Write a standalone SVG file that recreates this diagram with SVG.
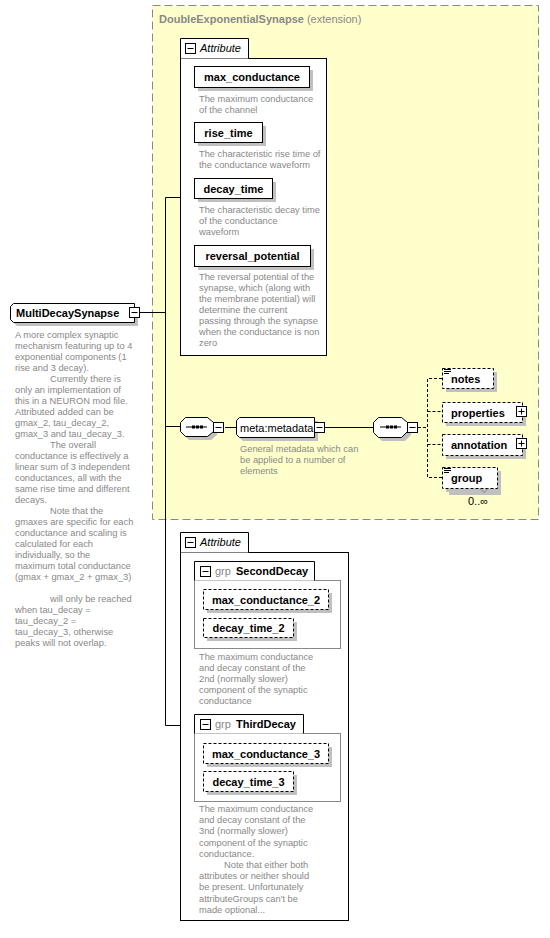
<svg xmlns="http://www.w3.org/2000/svg" width="550" height="938" viewBox="0 0 550 938">
<style>
.n{font-family:"Liberation Sans",Arial,sans-serif;font-size:11px;font-weight:bold;fill:#000}
.r{font-family:"Liberation Sans",Arial,sans-serif;font-size:11px;fill:#000}
.g{font-family:"Liberation Sans",Arial,sans-serif;font-size:11px;fill:#888}
.gb{font-family:"Liberation Sans",Arial,sans-serif;font-size:11px;font-weight:bold;fill:#888}
.it{font-family:"Liberation Sans",Arial,sans-serif;font-size:11px;font-style:italic;fill:#000}
.d{font-family:"Liberation Sans",Arial,sans-serif;font-size:9.3px;fill:#888}
.box{fill:#fff;stroke:#000;stroke-width:1}
.dbox{fill:#fff;stroke:#000;stroke-width:1;stroke-dasharray:3,2}
.gbox{fill:none;stroke:#888;stroke-width:1}
.sh{fill:#c0c0c0}
.ln{stroke:#000;stroke-width:1;fill:none}
.dl{stroke:#000;stroke-width:1;fill:none;stroke-dasharray:3,2}
</style>
<defs>
<g id="minus"><rect x="0.5" y="0.5" width="10" height="10" fill="#fff" stroke="#000"/><line x1="2.5" y1="5.5" x2="8.5" y2="5.5" stroke="#000"/></g>
<g id="plus"><rect x="0.5" y="0.5" width="10" height="10" fill="#fff" stroke="#000"/><line x1="2.5" y1="5.5" x2="8.5" y2="5.5" stroke="#000"/><line x1="5.5" y1="2.5" x2="5.5" y2="8.5" stroke="#000"/></g>
<g id="seqicon"><line x1="0" y1="0" x2="21" y2="0" stroke="#000"/><rect x="6" y="-1.5" width="3" height="3" fill="#000"/><rect x="10" y="-1.5" width="3" height="3" fill="#000"/><rect x="14" y="-1.5" width="3" height="3" fill="#000"/></g>
<g id="doc"><line x1="0" y1="0.5" x2="7" y2="0.5" stroke="#000"/><line x1="0" y1="2.5" x2="7" y2="2.5" stroke="#000"/><line x1="0" y1="4.5" x2="5" y2="4.5" stroke="#000"/></g>
</defs>

<g id="extension">
<rect x="152.5" y="5.5" width="386" height="514" fill="#ffffcc" stroke="#888" stroke-dasharray="8,4"/>
<text x="159" y="23"><tspan class="gb">DoubleExponentialSynapse</tspan><tspan class="g"> (extension)</tspan></text>
</g>

<g id="connectors">
<polyline class="ln" points="140,312.5 165.5,312.5"/>
<polyline class="ln" points="180,197.5 165.5,197.5 165.5,725.5 180,725.5"/>
<polyline class="ln" points="165.5,426.5 180,426.5"/>
<polyline class="ln" points="225,427.5 236,427.5"/>
<polyline class="ln" points="325,427.5 373,427.5"/>
<polyline class="dl" points="418,427.5 427.5,427.5"/>
<polyline class="dl" points="442,378.5 427.5,378.5 427.5,477.5 442,477.5"/>
<polyline class="dl" points="427.5,411.5 442,411.5"/>
<polyline class="dl" points="427.5,444.5 442,444.5"/>
</g>

<g id="MultiDecaySynapse">
<polygon class="sh" points="17,307 138,307 138,326 17,326 14,323 14,310"/>
<polygon class="box" points="13.5,303.5 134.5,303.5 134.5,322.5 13.5,322.5 10.5,319.5 10.5,306.5"/>
<text class="n" x="16" y="317">MultiDecaySynapse</text>
<use href="#minus" x="129" y="307"/>
<text class="d">
<tspan x="15" y="338">A more complex synaptic</tspan>
<tspan x="15" dy="11">mechanism featuring up to 4</tspan>
<tspan x="15" dy="11">exponential components (1</tspan>
<tspan x="15" dy="11">rise and 3 decay).</tspan>
<tspan x="50" dy="11">Currently there is</tspan>
<tspan x="15" dy="11">only an implementation of</tspan>
<tspan x="15" dy="11">this in a NEURON mod file.</tspan>
<tspan x="15" dy="11">Attributed added can be</tspan>
<tspan x="15" dy="11">gmax_2, tau_decay_2,</tspan>
<tspan x="15" dy="11">gmax_3 and tau_decay_3.</tspan>
<tspan x="50" dy="11">The overall</tspan>
<tspan x="15" dy="11">conductance is effectively a</tspan>
<tspan x="15" dy="11">linear sum of 3 independent</tspan>
<tspan x="15" dy="11">conductances, all with the</tspan>
<tspan x="15" dy="11">same rise time and different</tspan>
<tspan x="15" dy="11">decays.</tspan>
<tspan x="50" dy="11">Note that the</tspan>
<tspan x="15" dy="11">gmaxes are specific for each</tspan>
<tspan x="15" dy="11">conductance and scaling is</tspan>
<tspan x="15" dy="11">calculated for each</tspan>
<tspan x="15" dy="11">individually, so the</tspan>
<tspan x="15" dy="11">maximum total conductance</tspan>
<tspan x="15" dy="11">(gmax + gmax_2 + gmax_3)</tspan>
<tspan x="50" dy="22">will only be reached</tspan>
<tspan x="15" dy="11">when tau_decay =</tspan>
<tspan x="15" dy="11">tau_decay_2 =</tspan>
<tspan x="15" dy="11">tau_decay_3, otherwise</tspan>
<tspan x="15" dy="11">peaks will not overlap.</tspan>
</text>
</g>

<g id="Attribute1">
<rect class="box" x="180.5" y="58.5" width="146" height="297"/>
<path class="box" d="M180.5,58.5 V38.5 H248.5 V58.5"/>
<use href="#minus" x="185" y="43"/>
<text class="it" x="200" y="52">Attribute</text>
</g>

<g id="max_conductance">
<rect class="sh" x="198" y="70" width="115" height="21"/>
<rect class="box" x="194.5" y="66.5" width="115" height="21"/>
<text class="n" x="252" y="81" text-anchor="middle">max_conductance</text>
<text class="d"><tspan x="199" y="102">The maximum conductance</tspan><tspan x="199" dy="11">of the channel</tspan></text>
</g>

<g id="rise_time">
<rect class="sh" x="198" y="126" width="68" height="20"/>
<rect class="box" x="194.5" y="122.5" width="68" height="20"/>
<text class="n" x="228.5" y="136.5" text-anchor="middle">rise_time</text>
<text class="d"><tspan x="199" y="157">The characteristic rise time of</tspan><tspan x="199" dy="11">the conductance waveform</tspan></text>
</g>

<g id="decay_time">
<rect class="sh" x="198" y="182" width="78" height="20"/>
<rect class="box" x="194.5" y="178.5" width="78" height="20"/>
<text class="n" x="233.5" y="192.5" text-anchor="middle">decay_time</text>
<text class="d"><tspan x="199" y="213">The characteristic decay time</tspan><tspan x="199" dy="11">of the conductance</tspan><tspan x="199" dy="11">waveform</tspan></text>
</g>

<g id="reversal_potential">
<rect class="sh" x="198" y="249" width="116" height="21"/>
<rect class="box" x="194.5" y="245.5" width="116" height="21"/>
<text class="n" x="252.5" y="260" text-anchor="middle">reversal_potential</text>
<text class="d"><tspan x="199" y="280">The reversal potential of the</tspan><tspan x="199" dy="11">synapse, which (along with</tspan><tspan x="199" dy="11">the membrane potential) will</tspan><tspan x="199" dy="11">determine the current</tspan><tspan x="199" dy="11">passing through the synapse</tspan><tspan x="199" dy="11">when the conductance is non</tspan><tspan x="199" dy="11">zero</tspan></text>
</g>

<g id="sequence1">
<polygon class="sh" points="189,421 211,421 217,426 217,435 211,440 189,440 184,435 184,426"/>
<polygon class="box" points="185.5,417.5 207.5,417.5 213.5,422.5 213.5,431.5 207.5,436.5 185.5,436.5 180.5,431.5 180.5,422.5"/>
<use href="#seqicon" x="186" y="427"/>
<use href="#minus" x="213" y="422"/>
</g>

<g id="meta_metadata">
<polygon class="sh" points="243,421 318,421 318,441 243,441 240,438 240,424"/>
<polygon class="box" points="239.5,417.5 314.5,417.5 314.5,437.5 239.5,437.5 236.5,434.5 236.5,420.5"/>
<text class="r" x="240" y="431.5">meta:metadata</text>
<use href="#minus" x="314" y="422"/>
<text class="d"><tspan x="240" y="452">General metadata which can</tspan><tspan x="240" dy="11">be applied to a number of</tspan><tspan x="240" dy="11">elements</tspan></text>
</g>

<g id="sequence2">
<polygon class="sh" points="382,421 405,421 411,426 411,435 405,441 382,441 377,436 377,426"/>
<polygon class="box" points="378.5,417.5 401.5,417.5 407.5,422.5 407.5,431.5 401.5,437.5 378.5,437.5 373.5,432.5 373.5,422.5"/>
<use href="#seqicon" x="380" y="427"/>
<use href="#minus" x="407" y="422"/>
</g>

<g id="notes">
<rect class="sh" x="446" y="372" width="51" height="20"/>
<rect class="dbox" x="442.5" y="368.5" width="51" height="20"/>
<use href="#doc" x="444" y="369"/>
<text class="n" x="451" y="382.5">notes</text>
</g>

<g id="properties">
<rect class="sh" x="446" y="406" width="80" height="20"/>
<rect class="dbox" x="442.5" y="402.5" width="80" height="20"/>
<text class="n" x="451" y="416.5">properties</text>
<use href="#plus" x="516" y="406"/>
</g>

<g id="annotation">
<rect class="sh" x="446" y="438" width="80" height="21"/>
<rect class="dbox" x="442.5" y="434.5" width="80" height="21"/>
<text class="n" x="451" y="449">annotation</text>
<use href="#plus" x="516" y="438"/>
</g>

<g id="group">
<rect class="sh" x="449" y="474" width="52" height="21"/>
<rect class="sh" x="446" y="471" width="55" height="21"/>
<rect class="dbox" x="442.5" y="467.5" width="55" height="21"/>
<polyline points="480,488.5 484,492.5 488,488.5" fill="none" stroke="#888"/>
<use href="#doc" x="444" y="468"/>
<text class="n" x="451" y="482">group</text>
<text class="r" x="468" y="505">0..∞</text>
</g>

<g id="Attribute2">
<rect class="box" x="180.5" y="552.5" width="168" height="368"/>
<path class="box" d="M180.5,552.5 V532.5 H248.5 V552.5"/>
<use href="#minus" x="185" y="537"/>
<text class="it" x="200" y="546">Attribute</text>
</g>

<g id="SecondDecay">
<rect class="gbox" x="194.5" y="580.5" width="146" height="68"/>
<path class="box" d="M194.5,580.5 V561.5 H314.5 V580.5"/>
<use href="#minus" x="200" y="566"/>
<text x="215" y="575"><tspan class="g">grp</tspan><tspan class="n" x="236">SecondDecay</tspan></text>
</g>

<g id="max_conductance_2">
<rect class="sh" x="207" y="593" width="125" height="20"/>
<rect class="dbox" x="203.5" y="589.5" width="125" height="20"/>
<text class="n" x="266" y="603.5" text-anchor="middle">max_conductance_2</text>
</g>

<g id="decay_time_2">
<rect class="sh" x="207" y="622" width="90" height="19"/>
<rect class="dbox" x="203.5" y="618.5" width="90" height="19"/>
<text class="n" x="248.5" y="632" text-anchor="middle">decay_time_2</text>
<text class="d"><tspan x="199" y="660">The maximum conductance</tspan><tspan x="199" dy="11">and decay constant of the</tspan><tspan x="199" dy="11">2nd (normally slower)</tspan><tspan x="199" dy="11">component of the synaptic</tspan><tspan x="199" dy="11">conductance</tspan></text>
</g>

<g id="ThirdDecay">
<rect class="gbox" x="194.5" y="733.5" width="146" height="68"/>
<path class="box" d="M194.5,733.5 V714.5 H303.5 V733.5"/>
<use href="#minus" x="200" y="719"/>
<text x="215" y="728"><tspan class="g">grp</tspan><tspan class="n" x="236">ThirdDecay</tspan></text>
</g>

<g id="max_conductance_3">
<rect class="sh" x="207" y="747" width="125" height="20"/>
<rect class="dbox" x="203.5" y="743.5" width="125" height="20"/>
<text class="n" x="266" y="757.5" text-anchor="middle">max_conductance_3</text>
</g>

<g id="decay_time_3">
<rect class="sh" x="207" y="775" width="90" height="20"/>
<rect class="dbox" x="203.5" y="771.5" width="90" height="20"/>
<text class="n" x="248.5" y="785.5" text-anchor="middle">decay_time_3</text>
<text class="d"><tspan x="199" y="812">The maximum conductance</tspan><tspan x="199" dy="11.2">and decay constant of the</tspan><tspan x="199" dy="11.2">3nd (normally slower)</tspan><tspan x="199" dy="11.2">component of the synaptic</tspan><tspan x="199" dy="11.2">conductance.</tspan><tspan x="224" dy="11.2">Note that either both</tspan><tspan x="199" dy="11.2">attributes or neither should</tspan><tspan x="199" dy="11.2">be present. Unfortunately</tspan><tspan x="199" dy="11.2">attributeGroups can't be</tspan><tspan x="199" dy="11.2">made optional...</tspan></text>
</g>
</svg>
